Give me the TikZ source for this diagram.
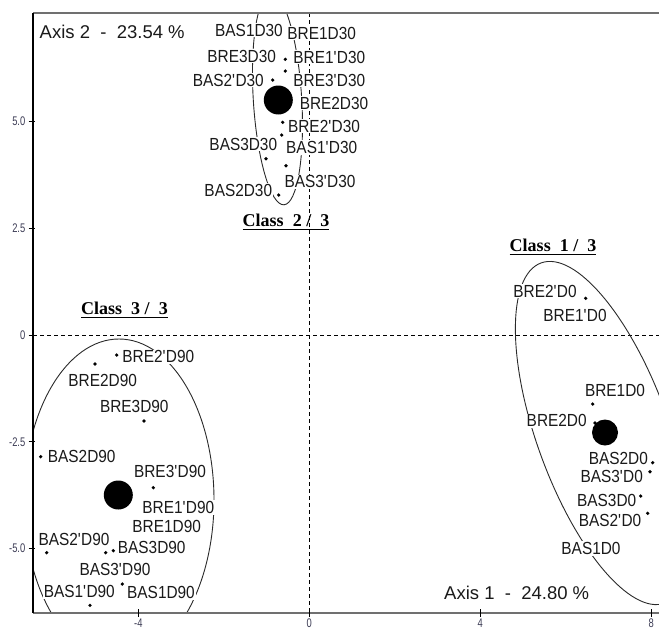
\documentclass[tikz,border=0pt]{standalone}
\usepackage{fontspec}
\setmainfont{Liberation Sans}
\newfontfamily\lblfont{Liberation Sans}[FakeStretch=0.88]
\newfontfamily\tickfont{Liberation Sans}[FakeStretch=0.75]
\newfontfamily\clsfont{Liberation Serif}
\newcommand\myap{\textquotesingle}
\definecolor{txt}{HTML}{1A1A1A}
\definecolor{tickc}{HTML}{3C3C55}
\definecolor{framec}{HTML}{707070}
\definecolor{ellc}{HTML}{2A2A2A}
\tikzset{
  lbl/.style={font=\lblfont\fontsize{17.5}{18}\selectfont, text=txt, fill=white, inner sep=1pt},
  dotpt/.style={circle, fill=black, inner sep=0pt, minimum size=3.6pt},
  bigpt/.style={circle, fill=black, inner sep=0pt, minimum size=#1},
  clslbl/.style={font=\clsfont\bfseries\fontsize{18}{20}\selectfont, text=black, inner sep=0pt},
  axlbl/.style={font=\fontsize{18.5}{20}\selectfont, text=txt, inner sep=0pt, anchor=west},
  ticklbl/.style={font=\tickfont\fontsize{12.5}{13}\selectfont, text=tickc, inner sep=0pt},
  ell/.style={draw=ellc, line width=0.9pt},
  dashl/.style={draw=black, line width=0.8pt, dash pattern=on 4pt off 3pt},
  tickmk/.style={draw=black, line width=1pt},
  ulin/.style={draw=black, line width=1.3pt}
}
\begin{document}
\begin{tikzpicture}[x=1pt,y=-1pt]
\useasboundingbox (0,0) rectangle (659,630);
% frame corners and axis ends
\coordinate (tl) at (33,13);
\coordinate (tr) at (659,13);
\coordinate (bl) at (33,613);
\coordinate (br) at (659,613);
\coordinate (hl) at (33,335);
\coordinate (hr) at (659,335);
\coordinate (vt) at (309.3,13);
\coordinate (vb) at (309.3,613);
\coordinate (c1) at (603,433);
\coordinate (c2) at (277.5,99);
\coordinate (c3) at (119,500);

\begin{scope}
\clip (tl) rectangle (br);
\draw[dashl] (hl) -- (hr);
\draw[dashl] (vt) -- (vb);
\draw[ell, rotate around={20:(c1)}] (c1) ellipse [x radius=66pt, y radius=181pt];
\draw[ell, rotate around={3.5:(c2)}] (c2) ellipse [x radius=24.2pt, y radius=106pt];
\draw[ell] (c3) ellipse [x radius=95pt, y radius=161pt];
\end{scope}

% frame
\draw[framec, line width=1.6pt] (tl) -- (tr);
\draw[framec, line width=1.6pt] (bl) -- (br);
\draw[black, line width=1.3pt] (tl) -- (bl);

% left ticks
\foreach \yy/\tt [count=\i] in {121.5/5.0, 228.3/2.5, 335/0, 441.8/-2.5, 548.5/-5.0}{
  \coordinate (ly\i) at (28.5,\yy);
  \coordinate (lz\i) at (35,\yy);
  \draw[tickmk] (ly\i) -- (lz\i);
  \node[ticklbl, anchor=east] (tly\i) at (25.5,\yy) {\tt};
}
% bottom ticks
\foreach \xx/\tt [count=\i] in {138.3/-4, 309.3/0, 480.3/4, 651.3/8}{
  \coordinate (bx\i) at (\xx,609);
  \coordinate (bz\i) at (\xx,617);
  \draw[tickmk] (bx\i) -- (bz\i);
  \node[ticklbl] (tlx\i) at (\xx,623.5) {\tt};
}

% axis titles
\node[axlbl] (ax2) at (39.5,31.5) {Axis 2\ \ -\ \ 23.54 \%};
\node[axlbl] (ax1) at (444,593) {Axis 1\ \ -\ \ 24.80 \%};

% class titles
\node[clslbl] (k1) at (553,245) {Class\ \ 1 /\ \ 3};
\node[clslbl] (k2) at (286,220) {Class\ \ 2 /\ \ 3};
\node[clslbl] (k3) at (124.5,308) {Class\ \ 3 /\ \ 3};
\foreach \k in {k1,k2,k3}{
  \draw[ulin] ([yshift=-3.5pt]\k.base west) -- ([yshift=-3.5pt]\k.base east);
}

% class 2 labels
\node[lbl] (a1) at (249,30) {BAS1D30};
\node[lbl] (a2) at (321.7,33) {BRE1D30};
\node[lbl] (a3) at (241.7,56) {BRE3D30};
\node[lbl] (a4) at (329.3,57.3) {BRE1\myap D30};
\node[lbl] (a5) at (228.3,80) {BAS2\myap D30};
\node[lbl] (a6) at (329.3,80) {BRE3\myap D30};
\node[lbl] (a7) at (334,103) {BRE2D30};
\node[lbl] (a8) at (324,126) {BRE2\myap D30};
\node[lbl] (a9) at (243.3,144) {BAS3D30};
\node[lbl] (a10) at (321.7,147.3) {BAS1\myap D30};
\node[lbl] (a11) at (320,181.7) {BAS3\myap D30};
\node[lbl] (a12) at (238.3,190) {BAS2D30};

% class 1 labels
\node[lbl] (b1) at (545,291) {BRE2\myap D0};
\node[lbl] (b2) at (575,315) {BRE1\myap D0};
\node[lbl] (b3) at (615,390) {BRE1D0};
\node[lbl] (b4) at (556.7,420.7) {BRE2D0};
\node[lbl] (b5) at (618.3,458.3) {BAS2D0};
\node[lbl] (b6) at (611.7,476) {BAS3\myap D0};
\node[lbl] (b7) at (606.7,500) {BAS3D0};
\node[lbl] (b8) at (610,520) {BAS2\myap D0};
\node[lbl] (b9) at (591,548.3) {BAS1D0};

% class 3 labels
\node[lbl] (g1) at (158.3,356.7) {BRE2\myap D90};
\node[lbl] (g2) at (102.7,380) {BRE2D90};
\node[lbl] (g3) at (134.3,406) {BRE3D90};
\node[lbl] (g4) at (81.7,456.5) {BAS2D90};
\node[lbl] (g5) at (170,471.7) {BRE3\myap D90};
\node[lbl] (g6) at (178.3,507.3) {BRE1\myap D90};
\node[lbl] (g7) at (166.7,526.7) {BRE1D90};
\node[lbl] (g8) at (74,539.3) {BAS2\myap D90};
\node[lbl] (g9) at (151.7,547.3) {BAS3D90};
\node[lbl] (g10) at (115,569.3) {BAS3\myap D90};
\node[lbl] (g11) at (79.3,591.7) {BAS1\myap D90};
\node[lbl] (g12) at (161,592.7) {BAS1D90};

% points, class 2
\foreach \p [count=\i] in {(285.3,59.3),(285.3,71),(272.7,80),(282.7,122.3),(281.7,135),(266,158.7),(286,165.7),(278.7,195)}{
  \node[dotpt] (pa\i) at \p {};
}
% points, class 1
\foreach \p [count=\i] in {(585.7,298.3),(592.7,404),(652.7,462.7),(650,471.7),(640.7,496),(647.7,513.3),(595,423)}{
  \node[dotpt] (pb\i) at \p {};
}
% points, class 3
\foreach \p [count=\i] in {(116.7,355),(95,364),(144,421),(40.7,456.7),(153.3,487.7),(46.7,552.7),(105.7,552.7),(113.3,550.7),(122.3,584),(90,605.3)}{
  \node[dotpt] (pg\i) at \p {};
}

% class centres
\node[bigpt=26pt] (m1) at (605,432.5) {};
\node[bigpt=29pt] (m2) at (278.3,100) {};
\node[bigpt=29pt] (m3) at (118.3,495) {};
\end{tikzpicture}
\end{document}
